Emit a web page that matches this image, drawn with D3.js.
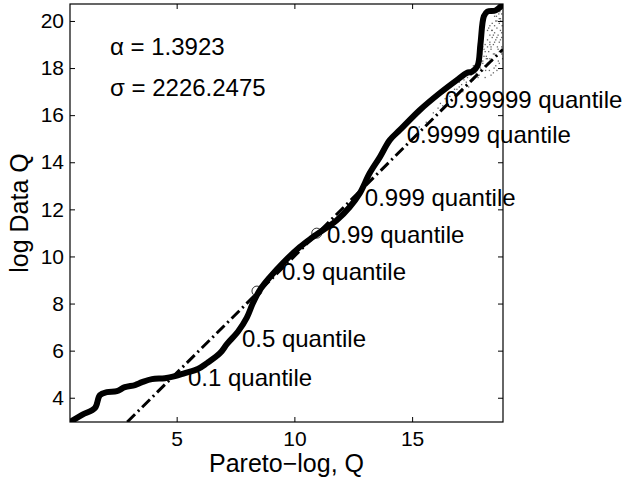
<!DOCTYPE html>
<html><head><meta charset="utf-8">
<script src="https://cdn.jsdelivr.net/npm/d3@7"></script>
<style>body{margin:0;background:#fff}svg{display:block}text{font-family:"Liberation Sans",Arial,Helvetica,sans-serif}</style>
</head><body><svg id="c" width="634" height="480"></svg>
<script>
// ---- data ----
const xDomain = [0.47, 18.86];
const yDomain = [2.97, 20.72];
const xTicks = [5, 10, 15];
const yTicks = [4, 6, 8, 10, 12, 14, 16, 18, 20];
const qqX = [0.47,1.0,1.53,1.74,2.04,2.46,2.80,3.23,3.53,3.95,4.50,4.93,5.35,5.90,6.29,6.84,7.15,7.60,7.98,8.24,8.53,8.96,9.51,10.23,10.78,11.80,12.35,12.78,13.20,13.63,14.05,14.48,15.33,16.18,16.90,17.32,17.55,17.78,17.90,18.05,18.20,18.55,18.86];
const qqY = [2.97,3.28,3.56,4.11,4.24,4.28,4.45,4.54,4.66,4.79,4.83,4.92,5.05,5.22,5.47,5.89,6.30,6.80,7.40,8.02,8.57,9.12,9.72,10.40,10.82,11.54,12.10,12.69,13.54,14.22,14.94,15.37,16.22,16.94,17.49,17.79,17.85,18.10,19.00,20.20,20.40,20.45,20.72];
const refX = [2.90, 18.86];
const refY = [2.97, 18.80];
const simX = [15.3,15.6,15.9,16.1,16.3,16.4,16.6,16.7,16.8,16.9,17.0,17.1,17.15,17.2,17.3,17.35,17.4,17.5,17.55,17.6,17.65,17.7,17.75,17.8,17.85,17.9,17.95,18.0,18.0,18.05,18.1,18.1,18.15,18.2,18.2,18.25,18.3,18.3,18.35,18.4,18.4,18.45,18.5,18.5,18.55,18.6,18.6,18.65,18.7,18.7,18.75,18.8,18.8,18.3,18.5,18.65,18.2,18.45,18.75,18.6,18.35,18.8,18.55,18.1,18.7,
  16.2,16.5,16.8,17.0,17.2,17.4,17.6,17.7,17.9,18.0,18.1,18.2,18.3,18.4,18.45,18.5,18.6,18.65,18.7,18.75,18.8,18.2,18.35,18.5,18.6,18.7,18.8,18.0,18.25,18.4,18.55,18.68,18.78,17.85,18.15,18.3,18.45,18.62,18.72,18.82,18.05,18.38,18.58,18.76,17.95,18.28,18.48,18.66,18.84,18.12];
const simY = [15.5,15.7,16.1,16.3,16.4,16.7,16.8,17.0,16.9,17.1,17.2,17.3,17.0,17.5,17.4,17.6,17.2,17.7,17.9,17.5,18.0,17.8,18.2,17.6,18.4,18.0,18.6,17.9,18.3,18.8,18.1,19.0,18.5,18.2,19.2,18.7,18.4,19.4,18.9,18.3,19.6,19.0,18.6,19.8,19.2,18.5,20.0,19.4,18.7,19.9,19.6,18.9,20.3,19.8,20.2,20.4,19.6,17.8,20.1,17.9,17.7,19.3,18.1,17.6,18.2,
  16.5,16.6,17.1,17.4,17.6,17.8,18.1,17.9,18.5,18.2,18.7,18.9,19.1,19.3,18.6,19.5,19.7,18.8,20.1,19.2,19.5,18.4,18.8,19.1,19.3,19.1,18.6,18.9,19.7,19.9,20.0,20.3,20.5,17.7,18.4,19.0,19.4,18.9,20.4,19.8,18.5,19.6,20.2,20.0,18.3,17.9,18.0,18.3,18.4,17.9];
const markX = [8.41, 10.95];
const markY = [8.53, 10.99];
const labels = ["0.1 quantile","0.5 quantile","0.9 quantile","0.99 quantile","0.999 quantile","0.9999 quantile","0.99999 quantile"];
const labelX = [5.48, 7.77, 9.47, 11.38, 12.99, 14.77, 16.39];
const labelY = [4.87, 6.53, 9.34, 10.91, 12.52, 15.16, 16.64];
const paramText = ["α = 1.3923", "σ = 2226.2475"];
const paramX = [2.17, 2.17];
const paramY = [18.89, 17.15];

// ---- chart ----
const L = 70, R = 503, T = 4, B = 422;
const svg = d3.select("#c");
const x = d3.scaleLinear().domain(xDomain).range([L, R]);
const y = d3.scaleLinear().domain(yDomain).range([B, T]);
const fsLab = 24, fsTick = 21, fsAxis = 25;

svg.append("clipPath").attr("id","clp").append("rect")
  .attr("x", L).attr("y", T).attr("width", R - L).attr("height", B - T);
const plot = svg.append("g").attr("clip-path","url(#clp)");

// simulated cloud
plot.selectAll("rect.sim").data(d3.range(simX.length)).join("rect")
  .attr("class","sim").attr("x", i => x(simX[i]) - 0.6).attr("y", i => y(simY[i]) - 0.6)
  .attr("width", 1.3).attr("height", 1.3).attr("fill", "#666");

// reference dash-dot line
plot.append("path").datum(d3.range(refX.length))
  .attr("d", d3.line().x(i => x(refX[i])).y(i => y(refY[i])))
  .attr("fill","none").attr("stroke","#000").attr("stroke-width",3)
  .attr("stroke-dasharray","11,4,2,4");

// data curve
plot.append("path").datum(d3.range(qqX.length))
  .attr("d", d3.line().curve(d3.curveCatmullRom).x(i => x(qqX[i])).y(i => y(qqY[i])))
  .attr("fill","none").attr("stroke","#000").attr("stroke-width",6)
  .attr("stroke-linejoin","round").attr("stroke-linecap","round");

// quantile circles
plot.selectAll("circle.m").data(d3.range(markX.length)).join("circle")
  .attr("class","m").attr("cx", i => x(markX[i])).attr("cy", i => y(markY[i]))
  .attr("r", 5).attr("fill","none").attr("stroke","#000").attr("stroke-width",0.8);

// labels
svg.selectAll("text.q").data(labels).join("text").attr("class","q")
  .attr("x", (d,i) => x(labelX[i])).attr("y", (d,i) => y(labelY[i]))
  .attr("dy","0.35em").attr("font-size", fsLab).text(d => d);

svg.selectAll("text.p").data(paramText).join("text").attr("class","p")
  .attr("x", (d,i) => x(paramX[i])).attr("y", (d,i) => y(paramY[i]))
  .attr("dy","0.35em").attr("font-size", fsLab).text(d => d);

// axes
const tl = 5;
const ax = svg.append("g");
ax.append("g").attr("transform",`translate(0,${B})`)
  .call(d3.axisBottom(x).tickValues(xTicks).tickSize(-tl).tickPadding(9).tickFormat(d3.format("d")));
ax.append("g").attr("transform",`translate(0,${T})`)
  .call(d3.axisTop(x).tickValues(xTicks).tickSize(-tl).tickFormat(""));
ax.append("g").attr("transform",`translate(0,0)`).attr("transform",`translate(${L},0)`)
  .call(d3.axisLeft(y).tickValues(yTicks).tickSize(-tl).tickPadding(6).tickFormat(d3.format("d")));
ax.append("g").attr("transform",`translate(${R},0)`)
  .call(d3.axisRight(y).tickValues(yTicks).tickSize(-tl).tickFormat(""));
ax.selectAll(".domain").remove();
ax.selectAll(".tick line").attr("stroke","#000").attr("stroke-width",1);
ax.selectAll(".tick text").attr("font-size", fsTick).attr("fill","#000")
  .attr("font-family","Liberation Sans, Arial, sans-serif");
ax.append("rect").attr("x",L).attr("y",T).attr("width",R-L).attr("height",B-T)
  .attr("fill","none").attr("stroke","#000").attr("stroke-width",1.2);

svg.append("text").attr("x", (L+R)/2).attr("y", 472).attr("text-anchor","middle")
  .attr("font-size", fsAxis).text("Pareto\u2212log, Q");
svg.append("text").attr("transform", `translate(28,${(T+B)/2}) rotate(-90)`)
  .attr("text-anchor","middle").attr("font-size", fsAxis).text("log Data Q");
</script></body></html>
